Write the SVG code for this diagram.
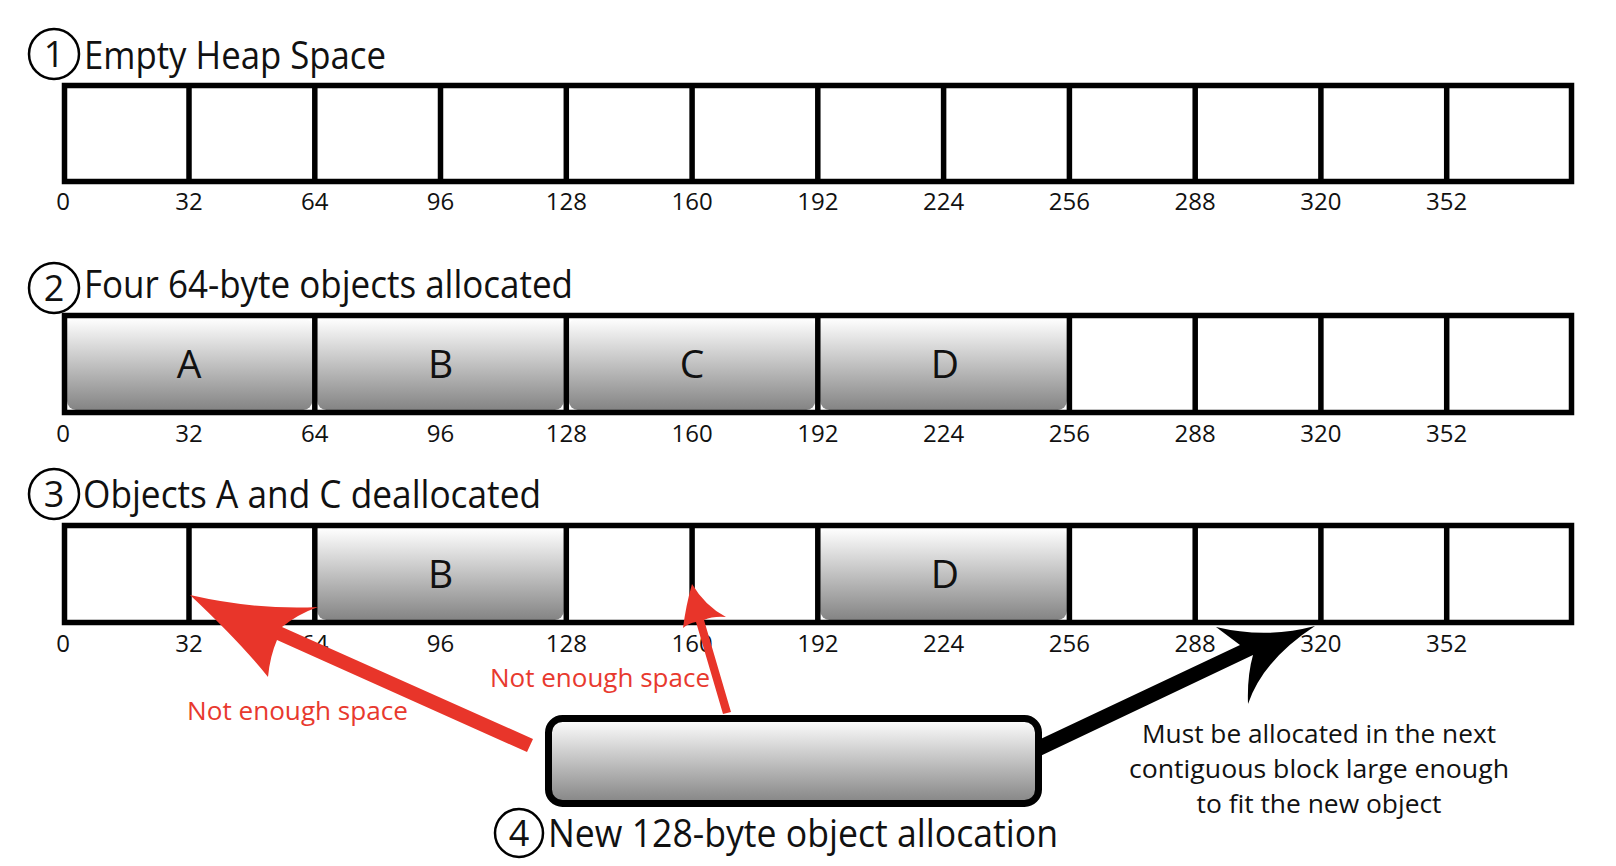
<svg xmlns="http://www.w3.org/2000/svg" width="1616" height="866" viewBox="0 0 1616 866">
<defs>
<linearGradient id="obj" x1="0" y1="0" x2="0" y2="1">
<stop offset="0" stop-color="#ffffff"/>
<stop offset="1" stop-color="#848484"/>
</linearGradient>
</defs>
<style>
.t{font-family:"Open Sans","Liberation Sans",sans-serif;fill:#111;}
.title{font-size:38px;}
.num{font-size:24px;text-anchor:middle;}
.big{font-size:39px;text-anchor:middle;}
.cnum{font-size:36px;text-anchor:middle;}
.red{font-family:"Open Sans","Liberation Sans",sans-serif;font-size:25px;fill:#e8392e;}
.note{font-size:26px;text-anchor:middle;}
.box{fill:#fff;stroke:#000;stroke-width:5.5;}
.frame{fill:none;stroke:#000;stroke-width:5.5;}
.div{stroke:#000;stroke-width:5.5;}
.obj{fill:url(#obj);}
.circ{fill:none;stroke:#000;stroke-width:2.5;}
</style>
<rect width="1616" height="866" fill="#fff"/>

<g id="row1">
<circle class="circ" cx="54" cy="54" r="25"/>
<text class="t cnum" x="54" y="67">1</text>
<text class="t title" x="84" y="69" textLength="302" lengthAdjust="spacingAndGlyphs">Empty Heap Space</text>
<rect class="box" x="64.5" y="85.5" width="1507" height="96"/>
<g class="div">
<line x1="189" y1="85" x2="189" y2="182"/>
<line x1="314.8" y1="85" x2="314.8" y2="182"/>
<line x1="440.5" y1="85" x2="440.5" y2="182"/>
<line x1="566.3" y1="85" x2="566.3" y2="182"/>
<line x1="692.1" y1="85" x2="692.1" y2="182"/>
<line x1="817.8" y1="85" x2="817.8" y2="182"/>
<line x1="943.6" y1="85" x2="943.6" y2="182"/>
<line x1="1069.4" y1="85" x2="1069.4" y2="182"/>
<line x1="1195.2" y1="85" x2="1195.2" y2="182"/>
<line x1="1320.9" y1="85" x2="1320.9" y2="182"/>
<line x1="1446.7" y1="85" x2="1446.7" y2="182"/>
</g>
<g class="t num">
<text x="63" y="210">0</text><text x="189" y="210">32</text><text x="314.8" y="210">64</text><text x="440.5" y="210">96</text><text x="566.3" y="210">128</text><text x="692.1" y="210">160</text><text x="817.8" y="210">192</text><text x="943.6" y="210">224</text><text x="1069.4" y="210">256</text><text x="1195.2" y="210">288</text><text x="1320.9" y="210">320</text><text x="1446.7" y="210">352</text>
</g>
</g>

<g id="row2">
<circle class="circ" cx="54" cy="288" r="25"/>
<text class="t cnum" x="54" y="301">2</text>
<text class="t title" x="84" y="298" textLength="489" lengthAdjust="spacingAndGlyphs">Four 64-byte objects allocated</text>
<rect x="64.5" y="315.5" width="1507" height="97" fill="#fff"/>
<g id="objA"><rect class="obj" x="67" y="318" width="245.3" height="92" rx="9"/><text class="t big" x="189" y="378">A</text></g>
<g id="objB"><rect class="obj" x="317.3" y="318" width="246.5" height="92" rx="9"/><text class="t big" x="440.5" y="378">B</text></g>
<g id="objC"><rect class="obj" x="568.8" y="318" width="246.5" height="92" rx="9"/><text class="t big" x="692.1" y="378">C</text></g>
<g id="objD"><rect class="obj" x="820.3" y="318" width="246.6" height="92" rx="9"/><text class="t big" x="945" y="378">D</text></g>
<g class="div">
<line x1="314.8" y1="315" x2="314.8" y2="413"/>
<line x1="566.3" y1="315" x2="566.3" y2="413"/>
<line x1="817.8" y1="315" x2="817.8" y2="413"/>
<line x1="1069.4" y1="315" x2="1069.4" y2="413"/>
<line x1="1195.2" y1="315" x2="1195.2" y2="413"/>
<line x1="1320.9" y1="315" x2="1320.9" y2="413"/>
<line x1="1446.7" y1="315" x2="1446.7" y2="413"/>
</g>
<rect class="frame" x="64.5" y="315.5" width="1507" height="97"/>
<g class="t num">
<text x="63" y="442">0</text><text x="189" y="442">32</text><text x="314.8" y="442">64</text><text x="440.5" y="442">96</text><text x="566.3" y="442">128</text><text x="692.1" y="442">160</text><text x="817.8" y="442">192</text><text x="943.6" y="442">224</text><text x="1069.4" y="442">256</text><text x="1195.2" y="442">288</text><text x="1320.9" y="442">320</text><text x="1446.7" y="442">352</text>
</g>
</g>

<g id="row3">
<circle class="circ" cx="54" cy="494" r="25"/>
<text class="t cnum" x="54" y="507">3</text>
<text class="t title" x="83" y="508" textLength="458" lengthAdjust="spacingAndGlyphs">Objects A and C deallocated</text>
<rect x="64.5" y="525.5" width="1507" height="97" fill="#fff"/>
<g id="objB3"><rect class="obj" x="317.3" y="528" width="246.5" height="92" rx="9"/><text class="t big" x="440.5" y="588">B</text></g>
<g id="objD3"><rect class="obj" x="820.3" y="528" width="246.6" height="92" rx="9"/><text class="t big" x="945" y="588">D</text></g>
<g class="div">
<line x1="189" y1="525" x2="189" y2="623"/>
<line x1="314.8" y1="525" x2="314.8" y2="623"/>
<line x1="566.3" y1="525" x2="566.3" y2="623"/>
<line x1="692.1" y1="525" x2="692.1" y2="623"/>
<line x1="817.8" y1="525" x2="817.8" y2="623"/>
<line x1="1069.4" y1="525" x2="1069.4" y2="623"/>
<line x1="1195.2" y1="525" x2="1195.2" y2="623"/>
<line x1="1320.9" y1="525" x2="1320.9" y2="623"/>
<line x1="1446.7" y1="525" x2="1446.7" y2="623"/>
</g>
<rect class="frame" x="64.5" y="525.5" width="1507" height="97"/>
<g class="t num">
<text x="63" y="652">0</text><text x="189" y="652">32</text><text x="314.8" y="652">64</text><text x="440.5" y="652">96</text><text x="566.3" y="652">128</text><text x="692.1" y="652">160</text><text x="817.8" y="652">192</text><text x="943.6" y="652">224</text><text x="1069.4" y="652">256</text><text x="1195.2" y="652">288</text><text x="1320.9" y="652">320</text><text x="1446.7" y="652">352</text>
</g>
</g>

<g id="connectors">
<path id="arrow-red-1" fill="#e8352a" d="M190,595 Q255,610 318,607 Q298,614 282,627 L533,739 L527,752 L277,640 Q270,656 268,677 Q240,642 190,595 Z"/>
<path id="arrow-red-2" fill="#e8352a" d="M692,584 Q705,606 726,617 Q713,616 704,620 L731,712 L723,714 L696,622 Q689,623 683,628 Q686,605 692,584 Z"/>
<path id="arrow-black" fill="#000" d="M1315,626 Q1263,660 1248,704 Q1247,676 1253,655 L1036,758 L1030,744 L1240,645 Q1228,636 1216,627 Q1266,639 1315,626 Z"/>
</g>

<g id="labels">
<text class="red" x="187" y="720" textLength="221" lengthAdjust="spacingAndGlyphs">Not enough space</text>
<text class="red" x="490" y="687" textLength="220" lengthAdjust="spacingAndGlyphs">Not enough space</text>
<g class="t note">
<text x="1319" y="743" textLength="354" lengthAdjust="spacingAndGlyphs">Must be allocated in the next</text>
<text x="1319" y="778" textLength="380" lengthAdjust="spacingAndGlyphs">contiguous block large enough</text>
<text x="1319" y="813" textLength="245" lengthAdjust="spacingAndGlyphs">to fit the new object</text>
</g>
</g>

<g id="new-object">
<rect x="548.5" y="718.5" width="490" height="85" rx="14" fill="url(#obj)" stroke="#000" stroke-width="7"/>
<circle class="circ" cx="519" cy="833" r="24"/>
<text class="t cnum" x="519" y="846">4</text>
<text class="t title" x="548" y="847" textLength="510" lengthAdjust="spacingAndGlyphs">New 128-byte object allocation</text>
</g>
</svg>
